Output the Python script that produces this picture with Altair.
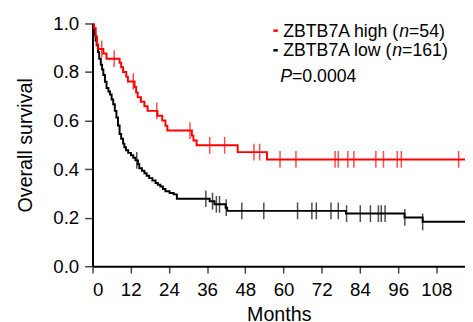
import altair as alt
import pandas as pd

# ---- data ----
high_t = [0, 0.5, 1.0, 1.4, 1.8, 3.4, 4.4, 8.5, 9.0, 9.6, 10.6, 11.1, 13.2, 13.7, 14.2, 15.2,
          16.3, 17.3, 20.4, 21.9, 22.9, 23.5, 31.2, 31.7, 32.7, 45.6, 54.8, 117]
high_s = [1.0, 0.98, 0.945, 0.913, 0.895, 0.876, 0.855, 0.838, 0.82, 0.80, 0.781, 0.761, 0.738,
          0.716, 0.696, 0.678, 0.659, 0.64, 0.62, 0.60, 0.579, 0.559, 0.538, 0.518, 0.498, 0.47,
          0.44, 0.44]
high_cens = [2.9, 6.8, 12.8, 20.2, 30.6, 36.8, 41.5, 50.7, 52.5, 58.9, 63.9, 76.2, 77.2, 80.2,
             82.1, 89.0, 91.4, 95.7, 97.0, 115.0]

low_t = [0, 0.3, 0.6, 1.0, 1.3, 1.7, 2.1, 2.6, 3.0, 3.4, 3.9, 4.4, 5.0, 5.5, 6.0, 6.5, 7.0, 7.5,
         8.0, 8.5, 9.0, 9.6, 10.0, 10.5, 11.2, 12.1, 12.8, 13.5, 14.3, 14.7, 15.5, 16.3, 17.0,
         17.8, 18.8, 19.8, 20.5, 21.3, 22.1, 22.9, 24.2, 25.5, 26.5, 36.8, 38.3, 41.8, 42.3,
         79.6, 98.0, 103.7, 117]
low_s = [1.0, 0.975, 0.951, 0.93, 0.91, 0.882, 0.855, 0.83, 0.81, 0.788, 0.76, 0.734, 0.72,
         0.707, 0.687, 0.667, 0.64, 0.613, 0.58, 0.545, 0.525, 0.505, 0.49, 0.478, 0.467, 0.457,
         0.447, 0.436, 0.42, 0.404, 0.393, 0.383, 0.373, 0.363, 0.353, 0.343, 0.336, 0.328,
         0.318, 0.309, 0.302, 0.296, 0.278, 0.268, 0.255, 0.241, 0.228, 0.217, 0.201, 0.183,
         0.183]
low_cens = [13.9, 35.6, 37.7, 38.9, 39.9, 42.0, 46.9, 53.8, 64.4, 68.9, 70.3, 74.9, 77.2, 79.8,
            84.1, 87.3, 89.8, 90.7, 91.9, 98.1, 103.7]

groups = ["ZBTB7A low", "ZBTB7A high"]
colors = ["#000000", "#ff0000"]
x_ticks = [0, 12, 24, 36, 48, 60, 72, 84, 96, 108]
y_ticks = [0.0, 0.2, 0.4, 0.6, 0.8, 1.0]


def lookup(ts, ss, c):
    val = ss[0]
    for t, s in zip(ts, ss):
        if t <= c:
            val = s
    return val


curve = pd.concat([
    pd.DataFrame({"t": low_t, "s": low_s, "g": groups[0], "o": 0}),
    pd.DataFrame({"t": high_t, "s": high_s, "g": groups[1], "o": 1}),
])
cens = pd.concat([
    pd.DataFrame({"t": low_cens, "s": [lookup(low_t, low_s, c) for c in low_cens], "g": groups[0], "o": 0}),
    pd.DataFrame({"t": high_cens, "s": [lookup(high_t, high_s, c) for c in high_cens], "g": groups[1], "o": 1}),
])

xs = alt.Scale(domain=[0, 117], nice=False, zero=True)
ys = alt.Scale(domain=[0, 1], nice=False)
cs = alt.Scale(domain=groups, range=colors)

x_enc = alt.X("t:Q", scale=xs, title="Months",
              axis=alt.Axis(values=x_ticks, tickSize=7, labelPadding=8, titlePadding=5))
y_enc = alt.Y("s:Q", scale=ys, title="Overall survival",
              axis=alt.Axis(values=y_ticks, format=".1f", tickSize=8, labelPadding=6,
                            titlePadding=18))

lines = alt.Chart(curve).mark_line(interpolate="step-after", strokeWidth=2, clip=True).encode(
    x=x_enc, y=y_enc,
    color=alt.Color("g:N", scale=cs, legend=None),
    detail="g:N",
    order="o:Q",
)
ticks = alt.Chart(cens).mark_tick(orient="vertical", size=17, thickness=1.5, clip=True).encode(
    x=alt.X("t:Q", scale=xs), y=alt.Y("s:Q", scale=ys),
    color=alt.Color("g:N", scale=cs, legend=None),
)


def txt(s, x, y, color="black", style="normal"):
    return alt.Chart(pd.DataFrame({"k": [s]})).mark_text(
        align="left", baseline="alphabetic", fontSize=18, font="Liberation Sans",
        color=color, fontStyle=style,
    ).encode(x=alt.value(x), y=alt.value(y), text="k:N")


def dash(y, color):
    return alt.Chart(pd.DataFrame({"k": [0]})).mark_rule(color=color, strokeWidth=2.5).encode(
        x=alt.value(184), x2=alt.value(188.5), y=alt.value(y))


legend = [
    dash(7.3, "#ff0000"),
    txt("ZBTB7A high (", 194, 13.3),
    txt("n", 312, 13.3, style="italic"),
    txt("=54)", 322, 13.3),
    dash(27.3, "#000000"),
    txt("ZBTB7A low (", 194, 33),
    txt("n", 305, 33, style="italic"),
    txt("=161)", 315, 33),
    txt("P", 191, 60, style="italic"),
    txt("=0.0004", 203, 60),
]

chart = alt.layer(lines, ticks, *legend).properties(
    width=379, height=247,
    autosize=alt.AutoSizeParams(type="none"),
    padding={"left": 86, "top": 13, "right": 0, "bottom": 54},
).configure_view(stroke=None).configure_axis(
    grid=False, domainColor="black", domainWidth=2, tickColor="#444", tickWidth=1.5,
    labelColor="black", labelFontSize=19, labelFont="Liberation Sans",
    titleFont="Liberation Sans", titleFontSize=20, titleFontWeight="normal", titleColor="black",
)

chart.save("out.html", embed_options={"renderer": "svg", "actions": False})
